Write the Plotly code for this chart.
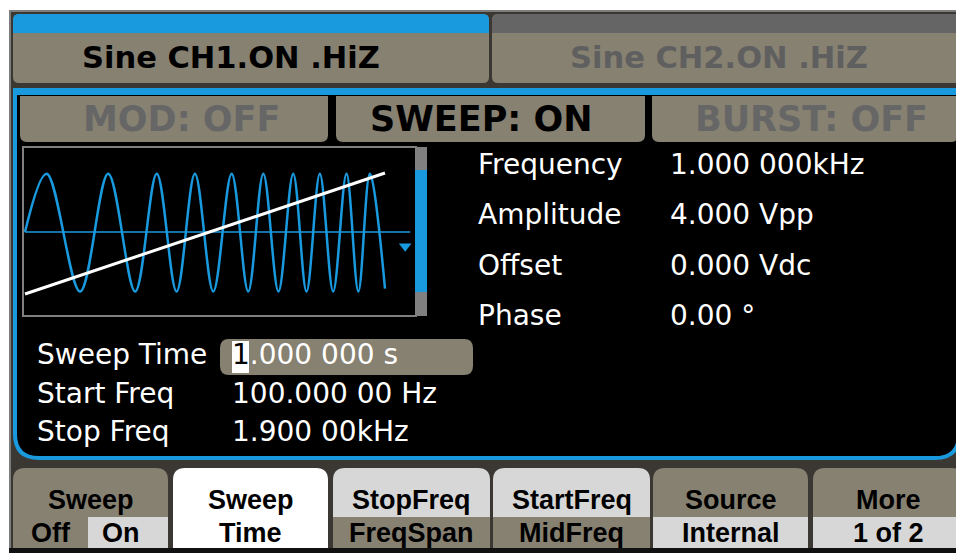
import plotly.graph_objects as go

# ---------------- data ----------------
channel_tabs = ["Sine CH1.ON .HiZ", "Sine CH2.ON .HiZ"]
mode_labels = ["MOD: OFF", "SWEEP: ON", "BURST: OFF"]
mode_active = [False, True, False]

param_labels = ["Frequency", "Amplitude", "Offset", "Phase"]
param_values = ["1.000 000kHz", "4.000 Vpp", "0.000 Vdc", "0.00 °"]

sweep_labels = ["Sweep Time", "Start Freq", "Stop Freq"]
sweep_values = ["1.000 000 s", "100.000 00 Hz", "1.900 00kHz"]

button_top = ["Sweep", "Sweep", "StopFreq", "StartFreq", "Source", "More"]
button_bottom = ["Off|On", "Time", "FreqSpan", "MidFreq", "Internal", "1 of 2"]

# sweep icon: time (s) of the start, peaks and troughs of the swept sine, and their level
wave_t = [0.000, 0.060, 0.153, 0.231, 0.306, 0.366, 0.421, 0.472, 0.523, 0.574,
          0.620, 0.662, 0.704, 0.745, 0.782, 0.819, 0.856, 0.893, 0.926, 0.958, 1.000]
wave_v = [0.0, 0.98, -1.0, 0.98, -1.0, 0.98, -1.0, 0.98, -1.0, 0.98,
          -1.0, 0.98, -1.0, 0.98, -1.0, 0.98, -1.0, 0.98, -1.0, 0.98, -0.95]
axis_t = [0.0, 1.07]
axis_v = [0.0, 0.0]
marker_t = [1.056]
marker_v = [-0.24]
ramp_t = [0.0, 1.0]          # sweep time
ramp_f = [100.0, 1900.0]     # start / stop frequency (Hz)

# ---------------- styling ----------------
VW, VH = 964, 553            # browser window
OFF = 8                      # page body margin
W, H = VW - OFF, VH - OFF    # figure size so that it fills the window exactly
TAN = "#878172"
BLUE = "#1a9ade"
LIGHT = "#d7d7d7"
DARK = "#3b3733"
FRAME = "#7d7d7d"
GRAYTXT = "#666666"
SANS = "DejaVu Sans"
BTN = "Liberation Sans"


def rr(x0, y0, x1, y1, tl=0, tr=0, br=0, bl=0):
    p = f"M {x0+tl},{y0} L {x1-tr},{y0} "
    p += f"Q {x1},{y0} {x1},{y0+tr} " if tr else ""
    p += f"L {x1},{y1-br} "
    p += f"Q {x1},{y1} {x1-br},{y1} " if br else ""
    p += f"L {x0+bl},{y1} "
    p += f"Q {x0},{y1} {x0},{y1-bl} " if bl else ""
    p += f"L {x0},{y0+tl} "
    p += f"Q {x0},{y0} {x0+tl},{y0} " if tl else ""
    return p + "Z"


shapes = []


def box(x0, y0, x1, y1, fill, tl=0, tr=0, br=0, bl=0, line=None, lw=0):
    shapes.append(dict(type="path", path=rr(x0, y0, x1, y1, tl, tr, br, bl),
                       xref="x", yref="y", fillcolor=fill,
                       line=dict(width=lw, color=line or fill), layer="below"))


annotations = []


def text(x, y, s, size, color, family=SANS, bold=False, anchor="left"):
    annotations.append(dict(x=x, y=y, xref="x", yref="y", text=s, showarrow=False,
                            xanchor=anchor, yanchor="middle",
                            font=dict(family=family, size=size, color=color,
                                      weight="bold" if bold else "normal")))


# frame
box(9, 10, VW + 2, VH + 2, FRAME)
box(11, 12, VW + 2, VH + 2, DARK)

# channel tabs
box(13, 14, 489, 83, TAN, 6, 6, 6, 6)
box(13, 14, 489, 33, BLUE, 6, 6)
box(492, 14, VW, 83, TAN, 6, 0, 0, 6)
box(492, 14, VW, 33, "#656565", 6)
text(80, 57, channel_tabs[0], 30.5, "#000000", bold=True)
text(568, 57, channel_tabs[1], 30.5, "#5f5f5f", bold=True)

# screen
box(13, 88, 961, 460, BLUE, 0, 0, 26, 26)
box(17, 95, 957, 456, "#000000", 0, 0, 22, 22)

# mode row
mode_x = [(20, 328), (336, 645), (652, 958)]
mode_cx = [181, 481, 811]
for (x0, x1), cx, lab, act in zip(mode_x, mode_cx, mode_labels, mode_active):
    box(x0, 96, x1, 142, TAN, 0, 0, 7, 7)
    text(cx, 119, lab, 35, "#000000" if act else GRAYTXT, bold=True, anchor="center")

# waveform window
shapes.append(dict(type="rect", x0=23, x1=416, y0=147, y1=316, xref="x", yref="y",
                   fillcolor="#000000", line=dict(color="#7f7f7f", width=2), layer="below"))
box(415, 147, 427, 316, "#808080")
box(415, 170, 427, 292, BLUE)

# parameter list
for i, (lab, val) in enumerate(zip(param_labels, param_values)):
    y = 164.5 + 50.3 * i
    text(476, y, lab, 28, "#ffffff")
    text(668, y, val, 28, "#ffffff")

# sweep parameters
box(220, 339, 473, 375, TAN, 9, 9, 9, 9)
box(232, 341, 249, 373, "#ffffff")
sweep_y = [354, 393, 431]
for i, (lab, val) in enumerate(zip(sweep_labels, sweep_values)):
    text(35, sweep_y[i], lab, 28, "#ffffff")
    if i == 0:
        s = f"<span style='color:#000000'>{val[0]}</span>{val[1:]}"
        text(230, sweep_y[i], s, 28, "#ffffff")
    else:
        text(230, sweep_y[i], val, 28, "#ffffff")

# soft keys
btn_x = [(13, 168), (173, 328), (333, 490), (493, 650), (653, 808), (813, VW)]
top_fill = [TAN, "#ffffff", LIGHT, LIGHT, TAN, TAN]
bot_fill = [None, "#ffffff", TAN, TAN, LIGHT, LIGHT]
BT, BM, BB = 468, 517, 548
for (x0, x1), tf, bf, tl, bl in zip(btn_x, top_fill, bot_fill, button_top, button_bottom):
    box(x0, BT, x1, BB, tf, 12, 12)
    if bf is None:
        box(x0, BM, 88, BB, TAN)
        box(88, BM, x1, BB, LIGHT)
    elif bf != tf:
        box(x0, BM, x1, BB, bf)
    cx = (x0 + x1) / 2
    text(cx, 500, tl, 27, "#000000", family=BTN, bold=True, anchor="center")
    if "|" in bl:
        a, b = bl.split("|")
        text(51, 533, a, 27, "#000000", family=BTN, bold=True, anchor="center")
        text(121, 533, b, 27, "#000000", family=BTN, bold=True, anchor="center")
    else:
        text(cx, 533, bl, 27, "#000000", family=BTN, bold=True, anchor="center")
box(9, BB, VW + 2, VH + 2, "#111111")

# ---------------- figure ----------------
fig = go.Figure()
fig.add_trace(go.Scatter(x=wave_t, y=wave_v, xaxis="x2", yaxis="y2", mode="lines",
                         line=dict(color=BLUE, width=2.5, shape="spline", smoothing=1.0),
                         hoverinfo="skip"))
fig.add_trace(go.Scatter(x=axis_t, y=axis_v, xaxis="x2", yaxis="y2", mode="lines",
                         line=dict(color=BLUE, width=1.5), hoverinfo="skip"))
fig.add_trace(go.Scatter(x=marker_t, y=marker_v, xaxis="x2", yaxis="y2", mode="markers",
                         marker=dict(symbol="triangle-down", size=11, color=BLUE),
                         hoverinfo="skip"))
fig.add_trace(go.Scatter(x=ramp_t, y=ramp_f, xaxis="x2", yaxis="y3", mode="lines",
                         line=dict(color="#ffffff", width=3), hoverinfo="skip"))


def xdom(a, b):
    return [(a - OFF) / W, (b - OFF) / W]


def ydom(top, bottom):
    return [1 - (bottom - OFF) / H, 1 - (top - OFF) / H]


hidden = dict(visible=False, showgrid=False, zeroline=False, fixedrange=True)
fig.update_layout(
    width=W, height=H,
    margin=dict(l=0, r=0, t=0, b=0),
    paper_bgcolor="#ffffff",
    plot_bgcolor="rgba(0,0,0,0)",
    showlegend=False,
    hovermode=False,
    xaxis=dict(range=[OFF, VW], domain=[0, 1], **hidden),
    yaxis=dict(range=[VH, OFF], domain=[0, 1], **hidden),
    xaxis2=dict(range=[-1 / 360, 390 / 360], domain=xdom(24, 415), anchor="y2", **hidden),
    yaxis2=dict(range=[-1.395, 1.412], domain=ydom(148, 315), anchor="x2", **hidden),
    yaxis3=dict(range=[-212, 2272], overlaying="y2", anchor="x2", side="right", **hidden),
    shapes=shapes,
    annotations=annotations,
)
fig.write_html("out.html")
